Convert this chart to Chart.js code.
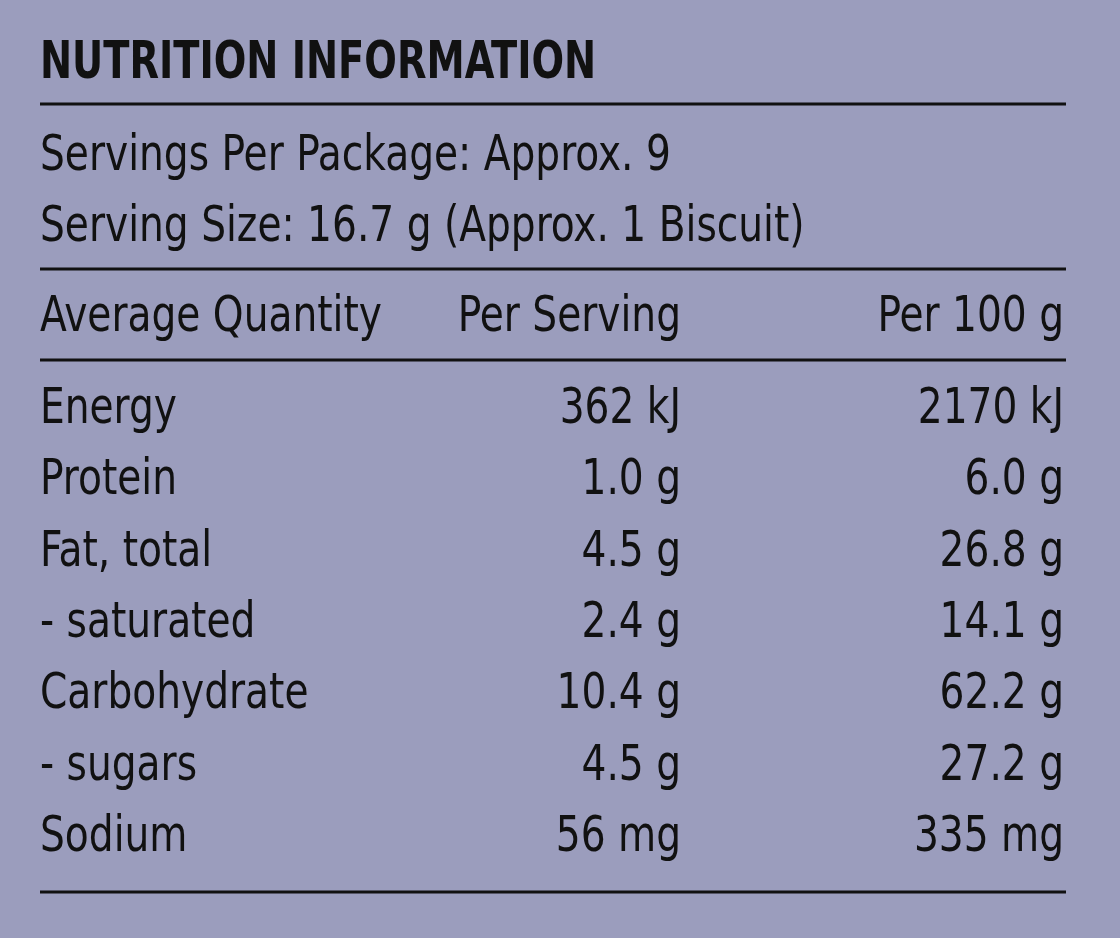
<!DOCTYPE html>
<html><head><meta charset="utf-8">
<script src="https://cdn.jsdelivr.net/npm/chart.js@4"></script>
<style>html,body{margin:0;padding:0;background:#9b9dbd;}#w{width:1120px;height:938px;}</style>
</head><body><div id="w"><canvas id="c"></canvas></div>
<script>
const title = "NUTRITION INFORMATION";
const servingsLine = "Servings Per Package: Approx. 9";
const sizeLine = "Serving Size: 16.7 g (Approx. 1 Biscuit)";
const headers = ["Average Quantity", "Per Serving", "Per 100 g"];
const nutrients = ["Energy","Protein","Fat, total","- saturated","Carbohydrate","- sugars","Sodium"];
const perServing = ["362 kJ","1.0 g","4.5 g","2.4 g","10.4 g","4.5 g","56 mg"];
const per100 = ["2170 kJ","6.0 g","26.8 g","14.1 g","62.2 g","27.2 g","335 mg"];

const FONT = "'Liberation Sans Narrow','DejaVu Sans Condensed',sans-serif";
const ink = "#111";

const tablePlugin = {
  id: "table",
  afterDraw(chart) {
    const ctx = chart.ctx, y = chart.scales.y;
    const L = 40, R = 1066, C1 = 681, C2 = 1064;
    ctx.save();
    ctx.fillStyle = ink; ctx.strokeStyle = ink; ctx.textBaseline = "middle";
    const txt = (s, x, yy, align, font, sx) => {
      ctx.save(); ctx.translate(x, yy); ctx.scale(sx, 1);
      ctx.font = font; ctx.textAlign = align; ctx.fillText(s, 0, 0); ctx.restore();
    };
    const body = "50px " + FONT, S = 0.87;
    txt(title, L, 64, "left", "bold 52px " + FONT, 0.82);
    txt(servingsLine, L, 157, "left", body, S);
    txt(sizeLine, L, 228, "left", body, S);
    txt(headers[0], L, 318, "left", body, S);
    txt(headers[1], C1, 318, "right", body, S);
    txt(headers[2], C2, 318, "right", body, S);
    nutrients.forEach((n, i) => {
      const yy = y.getPixelForValue(i);
      txt(n, L, yy, "left", body, S);
      txt(perServing[i], C1, yy, "right", body, S);
      txt(per100[i], C2, yy, "right", body, S);
    });
    ctx.lineWidth = 3;
    [104, 269, 360, 892].forEach(v => { ctx.beginPath(); ctx.moveTo(L, v); ctx.lineTo(R, v); ctx.stroke(); });
    ctx.restore();
  }
};

new Chart(document.getElementById("c"), {
  type: "bar",
  data: { labels: nutrients, datasets: [{ data: nutrients.map(() => null) }] },
  options: {
    responsive: true, maintainAspectRatio: false, animation: false, indexAxis: "y",
    layout: { padding: { top: 410, bottom: 100, left: 0, right: 0 } },
    plugins: { legend: { display: false }, tooltip: { enabled: false } },
    scales: {
      y: { type: "category", offset: false, display: false },
      x: { display: false, min: 0, max: 1 }
    }
  },
  plugins: [tablePlugin]
});
</script></body></html>
